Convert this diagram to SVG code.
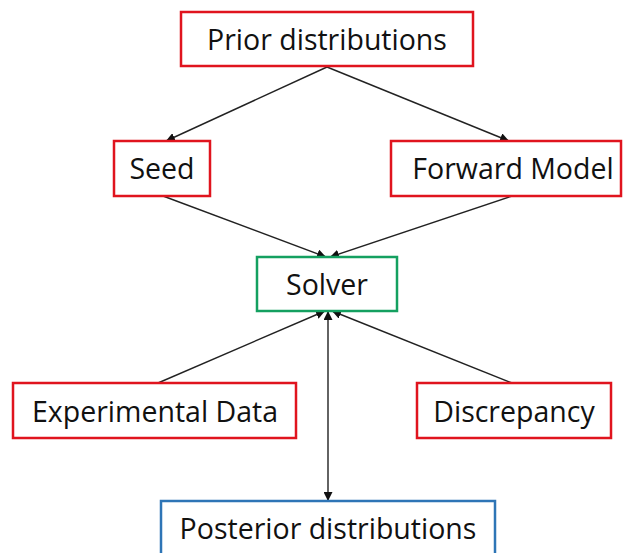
<svg xmlns="http://www.w3.org/2000/svg" width="625" height="553" viewBox="0 0 625 553">
<style>
.box{fill:#fff;stroke-width:2.5}
.red{stroke:#e0141e}
.green{stroke:#14a060}
.blue{stroke:#2e75b6}
.lbl{font-family:"Open Sans","Liberation Sans",sans-serif;font-size:28.5px;fill:#111;text-anchor:middle}
.conn{stroke:#222;stroke-width:1.4;fill:none}
</style>
<defs>
<marker id="ah" viewBox="0 0 10 10" refX="10" refY="5" markerWidth="9" markerHeight="9" markerUnits="userSpaceOnUse" orient="auto-start-reverse">
<path d="M0,0 L10,5 L0,10 z" fill="#111"/>
</marker>
</defs>
<rect width="625" height="553" fill="#fff"/>
<g id="connectors">
<line class="conn" x1="327" y1="67" x2="166" y2="141" marker-end="url(#ah)"/>
<line class="conn" x1="327" y1="67" x2="509" y2="141" marker-end="url(#ah)"/>
<line class="conn" x1="163" y1="196" x2="326" y2="257" marker-end="url(#ah)"/>
<line class="conn" x1="512" y1="196" x2="330" y2="257" marker-end="url(#ah)"/>
<line class="conn" x1="158" y1="383" x2="325" y2="311" marker-end="url(#ah)"/>
<line class="conn" x1="512" y1="383" x2="332" y2="311" marker-end="url(#ah)"/>
<line class="conn" x1="328" y1="311" x2="328" y2="501" marker-start="url(#ah)" marker-end="url(#ah)"/>
</g>
<g id="prior">
<rect class="box red" x="181" y="12" width="292" height="54"/>
<text class="lbl" x="327" y="50">Prior distributions</text>
</g>
<g id="seed">
<rect class="box red" x="114" y="141" width="96" height="55"/>
<text class="lbl" x="162" y="179">Seed</text>
</g>
<g id="forward">
<rect class="box red" x="391" y="141" width="230" height="55"/>
<text class="lbl" x="513" y="179">Forward Model</text>
</g>
<g id="solver">
<rect class="box green" x="257" y="257" width="140" height="54"/>
<text class="lbl" x="327" y="295">Solver</text>
</g>
<g id="experimental">
<rect class="box red" x="13" y="383" width="283" height="55"/>
<text class="lbl" x="155" y="422">Experimental Data</text>
</g>
<g id="discrepancy">
<rect class="box red" x="417" y="383" width="194" height="55"/>
<text class="lbl" x="514" y="422">Discrepancy</text>
</g>
<g id="posterior">
<rect class="box blue" x="161" y="501" width="334" height="60"/>
<text class="lbl" x="328" y="539">Posterior distributions</text>
</g>
</svg>
